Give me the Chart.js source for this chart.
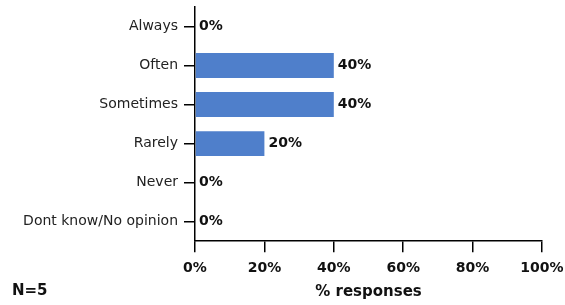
<!DOCTYPE html>
<html>
<head>
<meta charset="utf-8">
<script src="https://cdn.jsdelivr.net/npm/chart.js@4.4.0/dist/chart.umd.min.js"></script>
<style>
    html, body { margin: 0; padding: 0; background: #fff; }
    #wrap { position: relative; width: 565px; height: 305px; }
    #note { position: absolute; left: 12px; top: 281px; font: bold 15px "DejaVu Sans"; color: #111; }
</style>
</head>
<body>
<div id="wrap">
    <canvas id="myChart" width="565" height="305"></canvas>
    <div id="note">N=5</div>
</div>
<script>
var categories = ["Always", "Often", "Sometimes", "Rarely", "Never", "Dont know/No opinion"];
var responses = [0, 40, 40, 20, 0, 0];
var xTicks = [0, 20, 40, 60, 80, 100];

// labels at the end of each bar
var valueLabels = {
    id: 'valueLabels',
    afterDatasetsDraw: function (chart) {
        var ctx = chart.ctx;
        var meta = chart.getDatasetMeta(0);
        ctx.save();
        ctx.font = 'bold 14px "DejaVu Sans"';
        ctx.fillStyle = '#111';
        ctx.textAlign = 'left';
        ctx.textBaseline = 'middle';
        for (var i = 0; i < meta.data.length; i++) {
            var bar = meta.data[i];
            ctx.fillText(responses[i] + '%', bar.x + 4, bar.y);
        }
        ctx.restore();
    }
};

var ctx = document.getElementById('myChart');
var myChart = new Chart(ctx, {
    type: 'bar',
    data: {
        labels: categories,
        datasets: [{
            data: responses,
            backgroundColor: '#4f7fcb',
            borderWidth: 0,
            barPercentage: 0.64,
            categoryPercentage: 1
        }]
    },
    options: {
        indexAxis: 'y',
        responsive: false,
        animation: false,
        layout: { padding: { top: 7, right: 23, left: 0, bottom: 5 } },
        plugins: {
            legend: { display: false },
            tooltip: { enabled: false }
        },
        scales: {
            x: {
                min: 0,
                max: 100,
                afterBuildTicks: function (scale) {
                    scale.ticks = xTicks.map(function (v) { return { value: v }; });
                },
                // let the layout padding decide the plot edges
                afterFit: function (scale) { scale.paddingLeft = 0; scale.paddingRight = 0; },
                grid: { drawOnChartArea: false, color: '#000', lineWidth: 1.5, tickLength: 11 },
                border: { color: '#000', width: 1.5 },
                ticks: {
                    color: '#111',
                    padding: 8,
                    font: { family: 'DejaVu Sans', size: 14, weight: 'bold' },
                    callback: function (v) { return v + '%'; }
                },
                title: {
                    display: true,
                    text: '% responses',
                    color: '#111',
                    padding: { top: 0, bottom: 0 },
                    font: { family: 'DejaVu Sans', size: 15, weight: 'bold', lineHeight: 1 }
                }
            },
            y: {
                afterFit: function (scale) {
                    scale.width = 195;
                    scale.paddingTop = 0;
                    scale.paddingBottom = 0;
                },
                grid: { drawOnChartArea: false, offset: false, color: '#000', lineWidth: 1.5, tickLength: 11 },
                border: { color: '#000', width: 1.5 },
                ticks: {
                    color: '#222',
                    padding: 6,
                    font: { family: 'DejaVu Sans', size: 14 }
                }
            }
        }
    },
    plugins: [valueLabels]
});
</script>
</body>
</html>
